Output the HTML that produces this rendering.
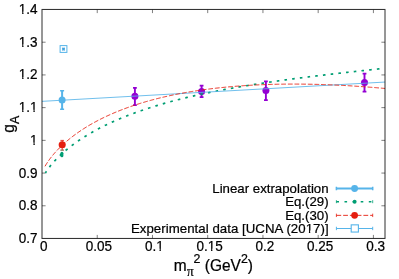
<!DOCTYPE html><html lang="en"><head><meta charset="utf-8"><style>html,body{margin:0;padding:0;background:#fff}svg{display:block;will-change:transform;opacity:0.999}text{font-family:"Liberation Sans",sans-serif;fill:#000;stroke:#000;stroke-width:0.22px}</style></head><body>
<svg width="399" height="279" viewBox="0 0 399 279">
<rect width="399" height="279" fill="#fff"/>
<g transform="translate(37.60 243.00) scale(1.02 1.04)"><text x="0" y="0" font-size="13.25" text-anchor="end">0.7</text></g>
<g transform="translate(37.60 210.29) scale(1.02 1.04)"><text x="0" y="0" font-size="13.25" text-anchor="end">0.8</text></g>
<g transform="translate(37.60 177.57) scale(1.02 1.04)"><text x="0" y="0" font-size="13.25" text-anchor="end">0.9</text></g>
<g transform="translate(37.60 144.86) scale(1.02 1.04)"><text x="0" y="0" font-size="13.25" text-anchor="end">1</text><rect x="-7.49" y="-2.33" width="3.40" height="3.11" fill="#fff"/><rect x="-2.79" y="-2.33" width="3.39" height="3.11" fill="#fff"/></g>
<g transform="translate(37.60 112.14) scale(1.02 1.04)"><text x="0" y="0" font-size="13.25" text-anchor="end">1.1</text><rect x="-18.53" y="-2.33" width="3.40" height="3.11" fill="#fff"/><rect x="-13.83" y="-2.33" width="3.39" height="3.11" fill="#fff"/><rect x="-7.50" y="-2.33" width="3.40" height="3.11" fill="#fff"/><rect x="-2.80" y="-2.33" width="3.39" height="3.11" fill="#fff"/></g>
<g transform="translate(37.60 79.43) scale(1.02 1.04)"><text x="0" y="0" font-size="13.25" text-anchor="end">1.2</text><rect x="-18.53" y="-2.33" width="3.40" height="3.11" fill="#fff"/><rect x="-13.83" y="-2.33" width="3.39" height="3.11" fill="#fff"/></g>
<g transform="translate(37.60 46.71) scale(1.02 1.04)"><text x="0" y="0" font-size="13.25" text-anchor="end">1.3</text><rect x="-18.53" y="-2.33" width="3.40" height="3.11" fill="#fff"/><rect x="-13.83" y="-2.33" width="3.39" height="3.11" fill="#fff"/></g>
<g transform="translate(37.60 14.00) scale(1.02 1.04)"><text x="0" y="0" font-size="13.25" text-anchor="end">1.4</text><rect x="-18.53" y="-2.33" width="3.40" height="3.11" fill="#fff"/><rect x="-13.83" y="-2.33" width="3.39" height="3.11" fill="#fff"/></g>
<g transform="translate(43.70 251.10) scale(1.02 1.04)"><text x="0" y="0" font-size="13.25" text-anchor="middle">0</text></g>
<g transform="translate(99.00 251.10) scale(1.02 1.04)"><text x="0" y="0" font-size="13.25" text-anchor="middle">0.05</text></g>
<g transform="translate(154.30 251.10) scale(1.02 1.04)"><text x="0" y="0" font-size="13.25" text-anchor="middle">0.1</text><rect x="1.70" y="-2.33" width="3.40" height="3.11" fill="#fff"/><rect x="6.40" y="-2.33" width="3.39" height="3.11" fill="#fff"/></g>
<g transform="translate(209.61 251.10) scale(1.02 1.04)"><text x="0" y="0" font-size="13.25" text-anchor="middle">0.15</text><rect x="-1.98" y="-2.33" width="3.40" height="3.11" fill="#fff"/><rect x="2.72" y="-2.33" width="3.39" height="3.11" fill="#fff"/></g>
<g transform="translate(264.91 251.10) scale(1.02 1.04)"><text x="0" y="0" font-size="13.25" text-anchor="middle">0.2</text></g>
<g transform="translate(320.21 251.10) scale(1.02 1.04)"><text x="0" y="0" font-size="13.25" text-anchor="middle">0.25</text></g>
<g transform="translate(375.51 251.10) scale(1.02 1.04)"><text x="0" y="0" font-size="13.25" text-anchor="middle">0.3</text></g>
<path d="M42.0 205.79h3.6M385.0 205.79h-3.6M42.0 173.07h3.6M385.0 173.07h-3.6M42.0 140.36h3.6M385.0 140.36h-3.6M42.0 107.64h3.6M385.0 107.64h-3.6M42.0 74.93h3.6M385.0 74.93h-3.6M42.0 42.21h3.6M385.0 42.21h-3.6M97.24 238.5v-3.6M97.24 9.5v3.6M152.47 238.5v-3.6M152.47 9.5v3.6M207.71 238.5v-3.6M207.71 9.5v3.6M262.94 238.5v-3.6M262.94 9.5v3.6M318.18 238.5v-3.6M318.18 9.5v3.6M373.41 238.5v-3.6M373.41 9.5v3.6" stroke="#000" stroke-opacity="0.5" stroke-width="1" fill="none"/>
<path d="M134.90 87.80V105.20" stroke="#9400d3" stroke-width="1.9" fill="none"/><path d="M133.00 87.80h3.8M133.00 105.20h3.8" stroke="#9400d3" stroke-width="1.75" fill="none"/><circle cx="134.90" cy="96.30" r="3.5" fill="#9400d3"/>
<path d="M201.60 85.70V97.00" stroke="#9400d3" stroke-width="1.9" fill="none"/><path d="M199.70 85.70h3.8M199.70 97.00h3.8" stroke="#9400d3" stroke-width="1.75" fill="none"/><circle cx="201.60" cy="91.60" r="3.5" fill="#9400d3"/>
<path d="M265.90 81.30V100.20" stroke="#9400d3" stroke-width="1.9" fill="none"/><path d="M264.00 81.30h3.8M264.00 100.20h3.8" stroke="#9400d3" stroke-width="1.75" fill="none"/><circle cx="265.90" cy="90.60" r="3.5" fill="#9400d3"/>
<path d="M364.50 73.60V91.60" stroke="#9400d3" stroke-width="1.9" fill="none"/><path d="M362.60 73.60h3.8M362.60 91.60h3.8" stroke="#9400d3" stroke-width="1.75" fill="none"/><circle cx="364.50" cy="82.60" r="3.5" fill="#9400d3"/>
<g clip-path="url(#cp)">
<path d="M45.40 172.92 L46.24 171.60 L47.09 170.35 L47.93 169.15 L48.77 168.00 L49.62 166.89 L50.46 165.82 L51.31 164.78 L52.15 163.78 L52.99 162.80 L53.84 161.84 L54.68 160.92 L55.52 160.01 L56.37 159.12 L57.21 158.26 L58.05 157.41 L58.90 156.58 L59.74 155.76 L60.58 154.96 L61.43 154.18 L62.27 153.41 L63.12 152.65 L63.96 151.91 L64.80 151.17 L65.65 150.46 L66.49 149.75 L67.33 149.05 L68.18 148.36 L69.02 147.69 L69.86 147.02 L70.71 146.37 L71.55 145.72 L72.40 145.08 L73.24 144.45 L74.08 143.83 L74.93 143.22 L75.77 142.62 L76.61 142.02 L77.46 141.43 L78.30 140.85 L79.14 140.27 L79.99 139.71 L80.83 139.15 L81.68 138.59 L82.52 138.05 L83.36 137.51 L84.21 136.97 L85.05 136.44 L85.89 135.92 L86.74 135.40 L87.58 134.89 L88.42 134.39 L89.27 133.89 L90.11 133.39 L90.95 132.90 L91.80 132.42 L92.64 131.94 L93.49 131.47 L94.33 131.00 L95.17 130.53 L96.02 130.07 L96.86 129.62 L97.70 129.17 L98.55 128.72 L99.39 128.28 L100.23 127.84 L101.08 127.41 L101.92 126.98 L102.77 126.55 L103.61 126.13 L104.45 125.72 L105.30 125.30 L106.14 124.89 L106.98 124.49 L107.83 124.08 L108.67 123.69 L109.51 123.29 L110.36 122.90 L111.20 122.51 L112.05 122.13 L112.89 121.75 L113.73 121.37 L114.58 120.99 L115.42 120.62 L116.26 120.25 L117.11 119.89 L117.95 119.53 L118.79 119.17 L119.64 118.81 L120.48 118.46 L121.32 118.11 L122.17 117.76 L123.01 117.42 L123.86 117.08 L124.70 116.74 L125.54 116.40 L126.39 116.07 L127.23 115.74 L128.07 115.41 L128.92 115.08 L129.76 114.76 L130.60 114.44 L131.45 114.12 L132.29 113.81 L133.14 113.49 L133.98 113.18 L134.82 112.87 L135.67 112.57 L136.51 112.26 L137.35 111.96 L138.20 111.66 L139.04 111.37 L139.88 111.07 L140.73 110.78 L141.57 110.49 L142.42 110.20 L143.26 109.92 L144.10 109.63 L144.95 109.35 L145.79 109.07 L146.63 108.79 L147.48 108.52 L148.32 108.24 L149.16 107.97 L150.01 107.70 L150.85 107.43 L151.69 107.17 L152.54 106.90 L153.38 106.64 L154.23 106.38 L155.07 106.12 L155.91 105.86 L156.76 105.61 L157.60 105.35 L158.44 105.10 L159.29 104.85 L160.13 104.60 L160.97 104.36 L161.82 104.11 L162.66 103.87 L163.51 103.63 L164.35 103.39 L165.19 103.15 L166.04 102.91 L166.88 102.67 L167.72 102.44 L168.57 102.21 L169.41 101.98 L170.25 101.75 L171.10 101.52 L171.94 101.29 L172.78 101.07 L173.63 100.85 L174.47 100.62 L175.32 100.40 L176.16 100.18 L177.00 99.97 L177.85 99.75 L178.69 99.53 L179.53 99.32 L180.38 99.11 L181.22 98.90 L182.06 98.69 L182.91 98.48 L183.75 98.27 L184.60 98.06 L185.44 97.86 L186.28 97.65 L187.13 97.45 L187.97 97.25 L188.81 97.05 L189.66 96.85 L190.50 96.66 L191.34 96.46 L192.19 96.26 L193.03 96.07 L193.88 95.88 L194.72 95.68 L195.56 95.49 L196.41 95.30 L197.25 95.12 L198.09 94.93 L198.94 94.74 L199.78 94.56 L200.62 94.37 L201.47 94.19 L202.31 94.01 L203.15 93.83 L204.00 93.65 L204.84 93.47 L205.69 93.29 L206.53 93.11 L207.37 92.94 L208.22 92.76 L209.06 92.59 L209.90 92.41 L210.75 92.24 L211.59 92.07 L212.43 91.90 L213.28 91.73 L214.12 91.56 L214.97 91.39 L215.81 91.23 L216.65 91.06 L217.50 90.90 L218.34 90.73 L219.18 90.57 L220.03 90.41 L220.87 90.25 L221.71 90.08 L222.56 89.93 L223.40 89.77 L224.25 89.61 L225.09 89.45 L225.93 89.29 L226.78 89.14 L227.62 88.98 L228.46 88.83 L229.31 88.68 L230.15 88.52 L230.99 88.37 L231.84 88.22 L232.68 88.07 L233.52 87.92 L234.37 87.77 L235.21 87.62 L236.06 87.48 L236.90 87.33 L237.74 87.18 L238.59 87.04 L239.43 86.89 L240.27 86.75 L241.12 86.61 L241.96 86.46 L242.80 86.32 L243.65 86.18 L244.49 86.04 L245.34 85.90 L246.18 85.76 L247.02 85.62 L247.87 85.48 L248.71 85.35 L249.55 85.21 L250.40 85.07 L251.24 84.94 L252.08 84.80 L252.93 84.67 L253.77 84.53 L254.62 84.40 L255.46 84.27 L256.30 84.14 L257.15 84.00 L257.99 83.87 L258.83 83.74 L259.68 83.61 L260.52 83.48 L261.36 83.36 L262.21 83.23 L263.05 83.10 L263.89 82.97 L264.74 82.85 L265.58 82.72 L266.43 82.59 L267.27 82.47 L268.11 82.35 L268.96 82.22 L269.80 82.10 L270.64 81.98 L271.49 81.85 L272.33 81.73 L273.17 81.61 L274.02 81.49 L274.86 81.37 L275.71 81.25 L276.55 81.13 L277.39 81.01 L278.24 80.89 L279.08 80.77 L279.92 80.65 L280.77 80.54 L281.61 80.42 L282.45 80.30 L283.30 80.19 L284.14 80.07 L284.98 79.96 L285.83 79.84 L286.67 79.73 L287.52 79.61 L288.36 79.50 L289.20 79.39 L290.05 79.27 L290.89 79.16 L291.73 79.05 L292.58 78.94 L293.42 78.83 L294.26 78.71 L295.11 78.60 L295.95 78.49 L296.80 78.38 L297.64 78.27 L298.48 78.16 L299.33 78.06 L300.17 77.95 L301.01 77.84 L301.86 77.73 L302.70 77.62 L303.54 77.52 L304.39 77.41 L305.23 77.30 L306.08 77.20 L306.92 77.09 L307.76 76.99 L308.61 76.88 L309.45 76.78 L310.29 76.67 L311.14 76.57 L311.98 76.46 L312.82 76.36 L313.67 76.26 L314.51 76.15 L315.35 76.05 L316.20 75.95 L317.04 75.85 L317.89 75.74 L318.73 75.64 L319.57 75.54 L320.42 75.44 L321.26 75.34 L322.10 75.24 L322.95 75.14 L323.79 75.04 L324.63 74.94 L325.48 74.84 L326.32 74.74 L327.17 74.64 L328.01 74.54 L328.85 74.44 L329.70 74.34 L330.54 74.25 L331.38 74.15 L332.23 74.05 L333.07 73.95 L333.91 73.85 L334.76 73.76 L335.60 73.66 L336.45 73.56 L337.29 73.47 L338.13 73.37 L338.98 73.27 L339.82 73.18 L340.66 73.08 L341.51 72.99 L342.35 72.89 L343.19 72.80 L344.04 72.70 L344.88 72.61 L345.72 72.51 L346.57 72.42 L347.41 72.32 L348.26 72.23 L349.10 72.14 L349.94 72.04 L350.79 71.95 L351.63 71.85 L352.47 71.76 L353.32 71.67 L354.16 71.58 L355.00 71.48 L355.85 71.39 L356.69 71.30 L357.54 71.20 L358.38 71.11 L359.22 71.02 L360.07 70.93 L360.91 70.84 L361.75 70.74 L362.60 70.65 L363.44 70.56 L364.28 70.47 L365.13 70.38 L365.97 70.29 L366.82 70.20 L367.66 70.11 L368.50 70.01 L369.35 69.92 L370.19 69.83 L371.03 69.74 L371.88 69.65 L372.72 69.56 L373.56 69.47 L374.41 69.38 L375.25 69.29 L376.09 69.20 L376.94 69.11 L377.78 69.02 L378.63 68.93 L379.47 68.84 L380.31 68.75 L381.16 68.66 L382.00 68.57" stroke="#009e73" stroke-width="1.7" stroke-dasharray="2.6 5.155" stroke-dashoffset="0.7" fill="none"/>
<path d="M42.0 101.35L385.0 82.05" stroke="#56b4e9" stroke-width="0.85" fill="none"/>
<path d="M45.00 166.31 L45.85 164.86 L46.70 163.49 L47.56 162.19 L48.41 160.95 L49.26 159.75 L50.11 158.60 L50.96 157.49 L51.82 156.41 L52.67 155.36 L53.52 154.34 L54.37 153.35 L55.23 152.39 L56.08 151.45 L56.93 150.53 L57.78 149.63 L58.63 148.75 L59.49 147.89 L60.34 147.05 L61.19 146.22 L62.04 145.41 L62.89 144.62 L63.75 143.84 L64.60 143.07 L65.45 142.32 L66.30 141.58 L67.16 140.85 L68.01 140.13 L68.86 139.43 L69.71 138.74 L70.56 138.06 L71.42 137.38 L72.27 136.72 L73.12 136.07 L73.97 135.43 L74.82 134.80 L75.68 134.18 L76.53 133.56 L77.38 132.96 L78.23 132.36 L79.09 131.77 L79.94 131.19 L80.79 130.62 L81.64 130.05 L82.49 129.49 L83.35 128.94 L84.20 128.40 L85.05 127.86 L85.90 127.33 L86.75 126.81 L87.61 126.29 L88.46 125.78 L89.31 125.27 L90.16 124.78 L91.02 124.28 L91.87 123.80 L92.72 123.32 L93.57 122.84 L94.42 122.37 L95.28 121.91 L96.13 121.45 L96.98 121.00 L97.83 120.55 L98.68 120.11 L99.54 119.67 L100.39 119.23 L101.24 118.81 L102.09 118.38 L102.94 117.96 L103.80 117.55 L104.65 117.14 L105.50 116.73 L106.35 116.33 L107.21 115.94 L108.06 115.55 L108.91 115.16 L109.76 114.77 L110.61 114.39 L111.47 114.02 L112.32 113.65 L113.17 113.28 L114.02 112.92 L114.87 112.56 L115.73 112.20 L116.58 111.85 L117.43 111.50 L118.28 111.15 L119.14 110.81 L119.99 110.47 L120.84 110.14 L121.69 109.81 L122.54 109.48 L123.40 109.16 L124.25 108.83 L125.10 108.52 L125.95 108.20 L126.80 107.89 L127.66 107.58 L128.51 107.28 L129.36 106.98 L130.21 106.68 L131.07 106.38 L131.92 106.09 L132.77 105.80 L133.62 105.51 L134.47 105.23 L135.33 104.95 L136.18 104.67 L137.03 104.39 L137.88 104.12 L138.73 103.85 L139.59 103.58 L140.44 103.32 L141.29 103.06 L142.14 102.80 L142.99 102.54 L143.85 102.29 L144.70 102.04 L145.55 101.79 L146.40 101.54 L147.26 101.30 L148.11 101.06 L148.96 100.82 L149.81 100.58 L150.66 100.35 L151.52 100.12 L152.37 99.89 L153.22 99.66 L154.07 99.43 L154.92 99.21 L155.78 98.99 L156.63 98.77 L157.48 98.56 L158.33 98.34 L159.19 98.13 L160.04 97.92 L160.89 97.72 L161.74 97.51 L162.59 97.31 L163.45 97.11 L164.30 96.91 L165.15 96.71 L166.00 96.52 L166.85 96.33 L167.71 96.13 L168.56 95.95 L169.41 95.76 L170.26 95.58 L171.12 95.39 L171.97 95.21 L172.82 95.03 L173.67 94.86 L174.52 94.68 L175.38 94.51 L176.23 94.34 L177.08 94.17 L177.93 94.00 L178.78 93.83 L179.64 93.67 L180.49 93.51 L181.34 93.35 L182.19 93.19 L183.05 93.03 L183.90 92.88 L184.75 92.72 L185.60 92.57 L186.45 92.42 L187.31 92.27 L188.16 92.13 L189.01 91.98 L189.86 91.84 L190.71 91.70 L191.57 91.56 L192.42 91.42 L193.27 91.28 L194.12 91.15 L194.97 91.01 L195.83 90.88 L196.68 90.75 L197.53 90.62 L198.38 90.49 L199.24 90.37 L200.09 90.24 L200.94 90.12 L201.79 90.00 L202.64 89.88 L203.50 89.76 L204.35 89.64 L205.20 89.53 L206.05 89.41 L206.90 89.30 L207.76 89.19 L208.61 89.08 L209.46 88.97 L210.31 88.86 L211.17 88.76 L212.02 88.65 L212.87 88.55 L213.72 88.45 L214.57 88.35 L215.43 88.25 L216.28 88.15 L217.13 88.06 L217.98 87.96 L218.83 87.87 L219.69 87.78 L220.54 87.69 L221.39 87.60 L222.24 87.51 L223.10 87.42 L223.95 87.33 L224.80 87.25 L225.65 87.17 L226.50 87.09 L227.36 87.00 L228.21 86.93 L229.06 86.85 L229.91 86.77 L230.76 86.69 L231.62 86.62 L232.47 86.55 L233.32 86.47 L234.17 86.40 L235.03 86.33 L235.88 86.27 L236.73 86.20 L237.58 86.13 L238.43 86.07 L239.29 86.00 L240.14 85.94 L240.99 85.88 L241.84 85.82 L242.69 85.76 L243.55 85.70 L244.40 85.64 L245.25 85.59 L246.10 85.53 L246.95 85.48 L247.81 85.43 L248.66 85.38 L249.51 85.33 L250.36 85.28 L251.22 85.23 L252.07 85.18 L252.92 85.13 L253.77 85.09 L254.62 85.05 L255.48 85.00 L256.33 84.96 L257.18 84.92 L258.03 84.88 L258.88 84.84 L259.74 84.80 L260.59 84.77 L261.44 84.73 L262.29 84.70 L263.15 84.66 L264.00 84.63 L264.85 84.60 L265.70 84.57 L266.55 84.54 L267.41 84.51 L268.26 84.48 L269.11 84.45 L269.96 84.43 L270.81 84.40 L271.67 84.38 L272.52 84.36 L273.37 84.34 L274.22 84.31 L275.08 84.29 L275.93 84.28 L276.78 84.26 L277.63 84.24 L278.48 84.22 L279.34 84.21 L280.19 84.19 L281.04 84.18 L281.89 84.17 L282.74 84.16 L283.60 84.14 L284.45 84.13 L285.30 84.13 L286.15 84.12 L287.01 84.11 L287.86 84.10 L288.71 84.10 L289.56 84.09 L290.41 84.09 L291.27 84.09 L292.12 84.09 L292.97 84.08 L293.82 84.08 L294.67 84.08 L295.53 84.09 L296.38 84.09 L297.23 84.09 L298.08 84.10 L298.93 84.10 L299.79 84.11 L300.64 84.11 L301.49 84.12 L302.34 84.13 L303.20 84.14 L304.05 84.15 L304.90 84.16 L305.75 84.17 L306.60 84.18 L307.46 84.19 L308.31 84.21 L309.16 84.22 L310.01 84.24 L310.86 84.26 L311.72 84.27 L312.57 84.29 L313.42 84.31 L314.27 84.33 L315.13 84.35 L315.98 84.37 L316.83 84.39 L317.68 84.41 L318.53 84.44 L319.39 84.46 L320.24 84.49 L321.09 84.51 L321.94 84.54 L322.79 84.57 L323.65 84.60 L324.50 84.62 L325.35 84.65 L326.20 84.68 L327.06 84.71 L327.91 84.75 L328.76 84.78 L329.61 84.81 L330.46 84.85 L331.32 84.88 L332.17 84.92 L333.02 84.95 L333.87 84.99 L334.72 85.03 L335.58 85.07 L336.43 85.11 L337.28 85.15 L338.13 85.19 L338.98 85.23 L339.84 85.27 L340.69 85.31 L341.54 85.36 L342.39 85.40 L343.25 85.45 L344.10 85.49 L344.95 85.54 L345.80 85.58 L346.65 85.63 L347.51 85.68 L348.36 85.73 L349.21 85.78 L350.06 85.83 L350.91 85.88 L351.77 85.93 L352.62 85.99 L353.47 86.04 L354.32 86.09 L355.18 86.15 L356.03 86.20 L356.88 86.26 L357.73 86.32 L358.58 86.37 L359.44 86.43 L360.29 86.49 L361.14 86.55 L361.99 86.61 L362.84 86.67 L363.70 86.73 L364.55 86.79 L365.40 86.86 L366.25 86.92 L367.11 86.98 L367.96 87.05 L368.81 87.11 L369.66 87.18 L370.51 87.25 L371.37 87.31 L372.22 87.38 L373.07 87.45 L373.92 87.52 L374.77 87.59 L375.63 87.66 L376.48 87.73 L377.33 87.80 L378.18 87.87 L379.04 87.95 L379.89 88.02 L380.74 88.10 L381.59 88.17 L382.44 88.25 L383.30 88.32 L384.15 88.40 L385.00 88.48" stroke="#e51e10" stroke-width="0.9" stroke-dasharray="4.75 1.9" fill="none"/>
</g>
<defs><clipPath id="cp"><rect x="42.0" y="9.5" width="343.0" height="229.0"/></clipPath></defs>
<path d="M62.10 90.70V109.20" stroke="#56b4e9" stroke-width="2.0" fill="none"/><path d="M60.10 90.70h4.0M60.10 109.20h4.0" stroke="#56b4e9" stroke-width="1.5" fill="none"/><circle cx="62.10" cy="99.90" r="3.5" fill="#56b4e9"/>
<path d="M62.20 140.40V150.10" stroke="#e51e10" stroke-width="0.9" fill="none"/><path d="M60.40 140.40h3.6M60.40 150.10h3.6" stroke="#e51e10" stroke-width="0.8" fill="none"/><circle cx="62.20" cy="144.80" r="3.55" fill="#e51e10"/>
<path d="M60.4 150.2h3.4" stroke="#009e73" stroke-width="0.9" opacity="0.55"/><path d="M61.9 153.3V155.8" stroke="#009e73" stroke-width="3" stroke-linecap="round"/>
<rect x="60.10" y="45.60" width="6.8" height="6.8" fill="none" stroke="#56b4e9" stroke-width="1"/><path d="M62.00 48.10h3L62.00 50.10h3Z" fill="#3a9fdc" stroke="#3a9fdc" stroke-width="0.7" stroke-linejoin="round"/>
<path d="M41.5 9.45H385.5M41.5 238.45H385.5" stroke="#1c1c1c" stroke-width="0.95" fill="none"/><path d="M42.0 10.0V238.0M385.0 10.0V238.0" stroke="#000" stroke-opacity="0.82" stroke-width="1" fill="none"/>
<g transform="translate(328.60 192.95) scale(1.0 1.02)"><text x="0" y="0" font-size="13.25" text-anchor="end">Linear extrapolation</text></g>
<g transform="translate(328.60 206.40) scale(1.0 1.02)"><text x="0" y="0" font-size="13.25" text-anchor="end">Eq.(29)</text></g>
<g transform="translate(328.60 219.80) scale(1.0 1.02)"><text x="0" y="0" font-size="13.25" text-anchor="end">Eq.(30)</text></g>
<g transform="translate(328.60 232.90) scale(1.0 1.02)"><text x="0" y="0" font-size="13.25" text-anchor="end" textLength="197.7" lengthAdjust="spacing">Experimental data [UCNA (2017)]</text><rect x="-23.08" y="-2.33" width="3.40" height="3.11" fill="#fff"/><rect x="-18.38" y="-2.33" width="3.39" height="3.11" fill="#fff"/></g>
<path d="M336.4 188.5H372.7" stroke="#56b4e9" stroke-width="2" fill="none"/><path d="M336.4 186.8v3.4M372.7 186.8v3.4" stroke="#56b4e9" stroke-width="1.5" fill="none"/><circle cx="354.6" cy="188.5" r="3.45" fill="#56b4e9"/>
<path d="M336.4 201.7H372.7" stroke="#009e73" stroke-width="1.4" stroke-dasharray="2.6 5.5" fill="none"/><path d="M336.4 200.2v3M372.7 200.2v3" stroke="#009e73" stroke-width="0.8" fill="none"/><circle cx="354.6" cy="201.7" r="2" fill="#009e73"/>
<path d="M336.4 215.35H372.7" stroke="#e51e10" stroke-width="0.9" stroke-dasharray="4.8 1.95" fill="none"/><path d="M336.4 213.65v3.4M372.7 213.65v3.4" stroke="#e51e10" stroke-width="0.8" fill="none"/><circle cx="354.6" cy="215.35" r="3.4" fill="#e51e10"/>
<path d="M336.4 228.45H372.7" stroke="#56b4e9" stroke-width="1.1" fill="none"/><path d="M336.4 226.75v3.4M372.7 226.75v3.4" stroke="#56b4e9" stroke-width="1" fill="none"/><rect x="351.2" y="224.85" width="7.2" height="7.2" fill="#fff" stroke="#56b4e9" stroke-width="1.1"/>
<g transform="translate(173.80 271.10) scale(1.0 1.03)"><text x="0" y="0" font-size="15.5" text-anchor="start">m<tspan font-size="13.3" font-family="Liberation Serif, serif" dy="4.4" dx="0.2">π</tspan><tspan font-size="12.4" dy="-12.5" dx="-0.05">2</tspan><tspan dy="8.1"> (GeV</tspan><tspan font-size="12.4" dy="-8.1">2</tspan><tspan dy="8.1">)</tspan></text></g>
<g transform="translate(13.70 132.70) rotate(-90) scale(1.0 1.03)"><text x="0" y="0" font-size="15.5" text-anchor="start">g<tspan font-size="12.4" dy="4.9">A</tspan></text></g>
</svg></body></html>
